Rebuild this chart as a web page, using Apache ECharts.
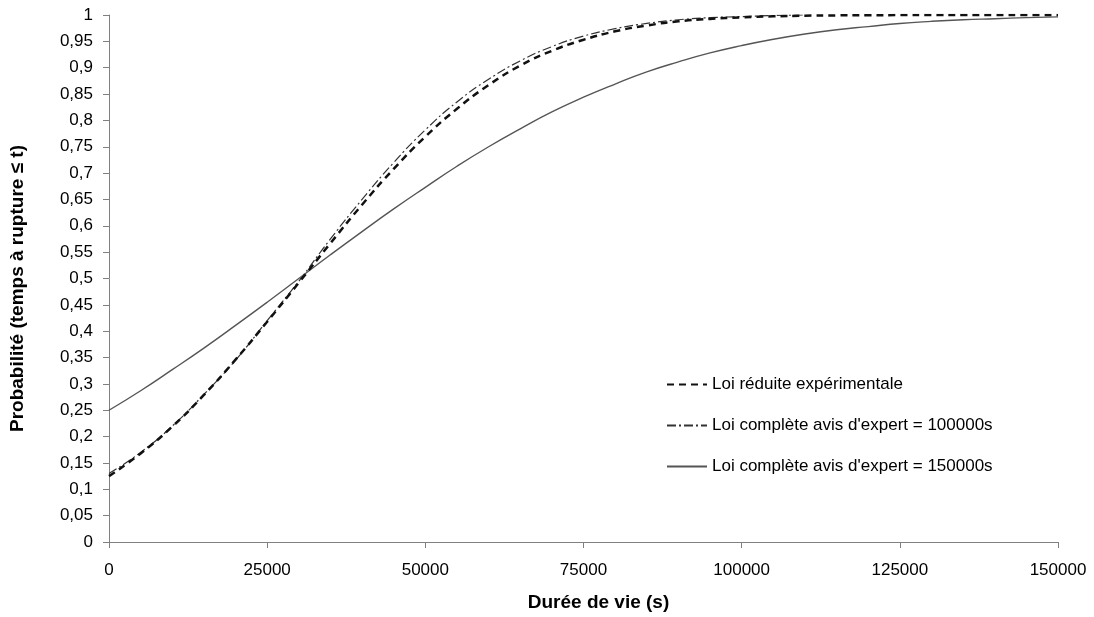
<!DOCTYPE html>
<html><head><meta charset="utf-8">
<script src="https://cdn.jsdelivr.net/npm/echarts@6/dist/echarts.min.js"></script>
<style>html,body{margin:0;padding:0;background:#fff}#c{width:1094px;height:617px}</style>
</head><body><div id="c"></div>
<script>
const xValues = [0,5000,10000,15000,20000,25000,30000,35000,40000,45000,50000,55000,60000,65000,70000,75000,80000,85000,90000,95000,100000,105000,110000,115000,120000,125000,130000,135000,140000,145000,150000];
const loiReduite = [0.125,0.168,0.219,0.279,0.346,0.418,0.492,0.567,0.640,0.708,0.769,0.822,0.867,0.904,0.932,0.953,0.969,0.980,0.988,0.9925,0.9956,0.9975,0.9987,0.9993,0.9996,0.9998,0.9999,1,1,1,1];
const loiExpert100 = [0.13,0.17,0.22,0.28,0.345,0.42,0.495,0.575,0.65,0.72,0.782,0.835,0.878,0.913,0.94,0.96,0.974,0.984,0.991,0.995,0.997,0.999,1.0];
const loiExpert150 = [0.25,0.287,0.327,0.368,0.411,0.455,0.5,0.545,0.589,0.632,0.673,0.713,0.75,0.784,0.816,0.844,0.869,0.892,0.911,0.928,0.942,0.954,0.964,0.972,0.978,0.984,0.988,0.991,0.993,0.995,0.9965];
const seriesNames = ["Loi réduite expérimentale","Loi complète avis d'expert = 100000s","Loi complète avis d'expert = 150000s"];
const xTitle = "Durée de vie (s)";
const yTitle = "Probabilité (temps à rupture ≤ t)";

const pairs = (ys) => ys.map((y,i)=>[xValues[i], y]);
const font = "Liberation Sans, Arial, sans-serif";
const chart = echarts.init(document.getElementById('c'), null, {renderer:'canvas'});
chart.setOption({
  animation:false,
  backgroundColor:'#fff',
  grid:{left:107,right:36,top:15,bottom:72,containLabel:false},
  xAxis:{type:'value',min:0,max:150000,interval:25000,
    name:xTitle,nameLocation:'middle',nameGap:51,
    nameTextStyle:{fontFamily:font,fontSize:19,fontWeight:'bold',color:'#000',padding:[0,0,0,30]},
    axisLine:{lineStyle:{color:'#808080',width:1}},
    axisTick:{show:true,inside:false,length:6,lineStyle:{color:'#808080'}},
    axisLabel:{fontFamily:font,fontSize:17,color:'#000',margin:20,formatter:(v)=>String(v)},
    splitLine:{show:false}},
  yAxis:{type:'value',min:0,max:1,interval:0.05,
    name:yTitle,nameLocation:'middle',nameGap:82,nameRotate:90,
    nameTextStyle:{fontFamily:font,fontSize:19,fontWeight:'bold',color:'#000',padding:[0,20,0,0]},
    axisLine:{show:true,lineStyle:{color:'#808080',width:1}},
    axisTick:{show:true,inside:false,length:6,lineStyle:{color:'#808080'}},
    axisLabel:{fontFamily:font,fontSize:17,color:'#000',margin:16,
      formatter:(v)=>String(Math.round(v*100)/100).replace('.',',')},
    splitLine:{show:false}},
  legend:{orient:'vertical',left:661,top:371,itemGap:24,itemWidth:40,itemHeight:17,
    itemStyle:{opacity:0},
    textStyle:{fontFamily:font,fontSize:17,color:'#000'},
    data:seriesNames},
  series:[
    {name:seriesNames[0],type:'line',symbol:'none',smooth:true,data:pairs(loiReduite),z:3,
      lineStyle:{color:'#111',width:2.5,type:[7,5]},itemStyle:{color:'#111'}},
    {name:seriesNames[1],type:'line',symbol:'none',smooth:true,data:pairs(loiExpert100),z:2,
      lineStyle:{color:'#333',width:1.2,type:[9,3,2,3]},itemStyle:{color:'#333'}},
    {name:seriesNames[2],type:'line',symbol:'none',smooth:true,data:pairs(loiExpert150),z:2,
      lineStyle:{color:'#555',width:1.4,type:'solid'},itemStyle:{color:'#555'}}
  ]
});
</script></body></html>
